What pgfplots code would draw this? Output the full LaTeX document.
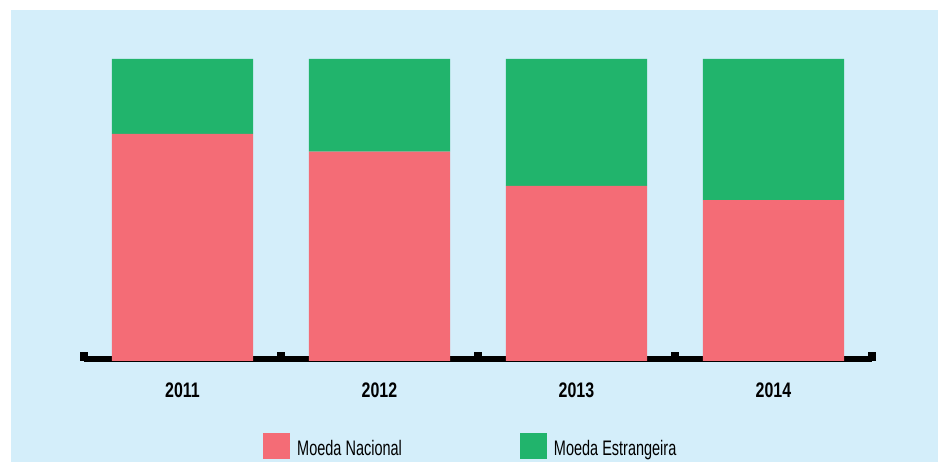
\documentclass[border=0pt]{standalone}
\usepackage{pgfplots}
\pgfplotsset{compat=1.18}
\usepackage{fontspec}
\setmainfont{Liberation Sans}[FakeStretch=0.76]
\newfontfamily\legfont{Liberation Sans}[FakeStretch=0.69]
\definecolor{bg}{RGB}{212,238,250}
\definecolor{nac}{RGB}{244,108,118}
\definecolor{est}{RGB}{33,180,108}
\pgfplotsset{sqlegend/.style={legend image code/.code={\fill[##1,draw=none] (0pt,-13pt) rectangle (27pt,13pt);}}}
\begin{document}
\begin{tikzpicture}[x=1pt,y=1pt]
\fill[white] (0,0) rectangle (938,462);
\fill[bg] (11,0) rectangle (938,452);
\begin{axis}[
  at={(84pt,101pt)}, anchor=south west,
  scale only axis, width=788pt, height=302pt,
  xmin=-0.5, xmax=3.5, ymin=0, ymax=100,
  ybar stacked, bar width=0.716,
  axis x line=bottom, axis y line=none,
  x axis line style={-, line width=6pt, black, yshift=1.5pt},
  xtick={0,1,2,3}, xticklabels={2011,2012,2013,2014},
  minor xtick={-0.5,0.5,1.5,2.5,3.5},
  major tick length=0pt, minor tick length=9pt, tick align=inside,
  minor tick style={line width=8pt, black},
  xticklabel style={font=\bfseries\fontsize{21}{21}\selectfont, inner sep=0pt, yshift=-22pt},
  legend columns=2,
  legend style={draw=none, fill=none, at={(axis description cs:0.2272,-0.2384)}, anchor=north west,
    inner sep=0pt, font=\legfont\fontsize{21}{21}\selectfont,
    nodes={inner sep=0pt},
    /tikz/every odd column/.append style={column sep=7pt},
    /tikz/every even column/.append style={column sep=118pt}},
]
\addplot[fill=nac, draw=none, sqlegend]
  coordinates {(0,75.2) (1,69.3) (2,58.0) (3,53.3)};
\addplot[fill=est, draw=none, sqlegend]
  coordinates {(0,24.8) (1,30.7) (2,42.0) (3,46.7)};
\legend{\raisebox{-5pt}{Moeda Nacional}, \raisebox{-5pt}{Moeda Estrangeira}}
\end{axis}
\pgfresetboundingbox
\path (0,0) rectangle (938,462);
\end{tikzpicture}
\end{document}
